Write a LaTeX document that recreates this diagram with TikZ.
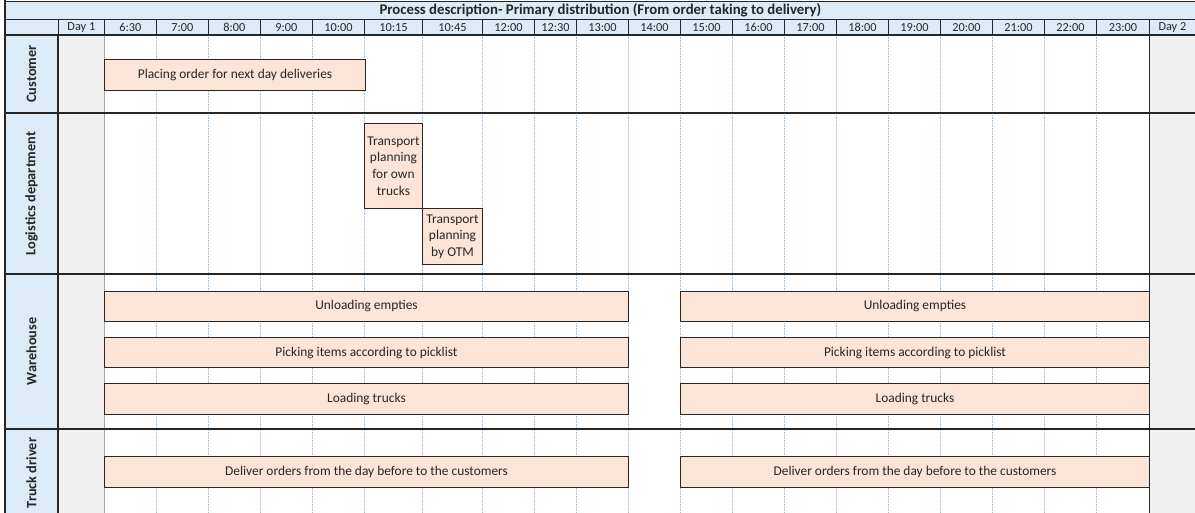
\documentclass[tikz,border=0pt]{standalone}
\usepackage{fontspec}
\setmainfont{Carlito}
\usetikzlibrary{positioning}

\definecolor{laneblue}{HTML}{DDEBF7}
\definecolor{barpeach}{HTML}{FCE4D6}
\definecolor{daygray}{HTML}{F0F0F0}
\definecolor{gridblue}{HTML}{9BC2E6}
\definecolor{inkgray}{HTML}{262626}

\tikzset{
    hcell/.style={draw=inkgray, fill=laneblue, line width=0.8pt, inner sep=0pt,
        anchor=north west, minimum height=16pt, text=inkgray,
        font=\fontsize{12.3}{13}\selectfont},
    lanecell/.style={draw=inkgray, fill=laneblue, line width=1.4pt, inner sep=0pt,
        rotate=90, text=inkgray, font=\bfseries\fontsize{14.3}{16}\selectfont},
    task/.style={draw=inkgray, fill=barpeach, line width=1pt, inner sep=1pt,
        anchor=north west, text=inkgray, align=center,
        font=\fontsize{13.4}{16.7}\selectfont},
    grid/.style={gridblue, densely dotted, line width=0.6pt},
    laneline/.style={inkgray, line width=1.3pt}
}

\begin{document}
\begin{tikzpicture}[x=1pt, y=-1pt]
        \useasboundingbox (0,0) rectangle (1195,513);
        \fill[white] (0,0) rectangle (1195,513);

        \fill[daygray] (58,35) rectangle (104,513);
        \fill[daygray] (1149,35) rectangle (1195,513);
        \foreach \gx in {156,208,260,312,364,422,482,534,576,628,680,732,784,836,888,940,992,1044,1096}
            \draw[grid] (\gx,35) -- (\gx,513);
        \draw[gray!70, line width=0.6pt] (104,35) -- (104,513);
        \draw[inkgray, line width=0.9pt] (1149,35) -- (1149,513);

        \node[lanecell, minimum width=78pt, minimum height=53pt] (customer) at (31.5,74) {Customer};
        \node[lanecell, minimum width=161pt, minimum height=53pt] (logistics) at (31.5,193.5) {Logistics department};
        \node[lanecell, minimum width=155pt, minimum height=53pt] (warehouse) at (31.5,351.5) {Warehouse};
        \node[lanecell, minimum width=88pt, minimum height=53pt] (driver) at (31.5,473) {Truck driver};

        \foreach \ly in {113,274,429}
            \draw[laneline] (58,\ly) -- (1195,\ly);
        \draw[line width=2pt, inkgray] (58,35) -- (58,513);

        \node[hcell, minimum width=1190pt, minimum height=18pt, font=\bfseries\fontsize{14.8}{16}\selectfont] (title) at (5,1)
            {Process description- Primary distribution (From order taking to delivery)};
        \node[hcell] (hlane) [minimum width=53pt] at (5,19) {};
        \foreach \l/\r/\t [count=\i] in {58/104/Day 1, 104/156/6:30, 156/208/7:00, 208/260/8:00,
                260/312/9:00, 312/364/10:00, 364/422/10:15, 422/482/10:45, 482/534/12:00,
                534/576/12:30, 576/628/13:00, 628/680/14:00, 680/732/15:00, 732/784/16:00,
                784/836/17:00, 836/888/18:00, 888/940/19:00, 940/992/20:00, 992/1044/21:00,
                1044/1096/22:00, 1096/1149/23:00, 1149/1195/Day 2}
            \node[hcell, minimum width={(\r-\l)*1pt}] (h\i) at (\l,19) {\t};
        \draw[line width=2pt, inkgray] (5,35) -- (1195,35);
        \draw[line width=2pt, inkgray] (5,0) -- (5,513);

        \node[task, minimum width=261pt, minimum height=31pt] (placing) at (104,59) {Placing order for next day deliveries};
        \node[task, minimum width=58pt, minimum height=85pt] (ownplan) at (364,123) {Transport\\planning\\for own\\trucks};
        \node[task, minimum width=60pt, minimum height=56pt] (otmplan) at (422,208) {Transport\\planning\\by OTM};

        \node[task, minimum width=524pt, minimum height=30pt] (unloadA) at (104,291) {Unloading empties};
        \node[task, minimum width=469pt, minimum height=30pt] (unloadB) at (680,291) {Unloading empties};
        \node[task, minimum width=524pt, minimum height=30pt] (pickA) at (104,337) {Picking items according to picklist};
        \node[task, minimum width=469pt, minimum height=30pt] (pickB) at (680,337) {Picking items according to picklist};
        \node[task, minimum width=524pt, minimum height=31pt] (loadA) at (104,383) {Loading trucks};
        \node[task, minimum width=469pt, minimum height=31pt] (loadB) at (680,383) {Loading trucks};

        \node[task, minimum width=524pt, minimum height=31pt] (deliverA) at (104,456) {Deliver orders from the day before to the customers};
        \node[task, minimum width=469pt, minimum height=31pt] (deliverB) at (680,456) {Deliver orders from the day before to the customers};
\end{tikzpicture}
\end{document}
